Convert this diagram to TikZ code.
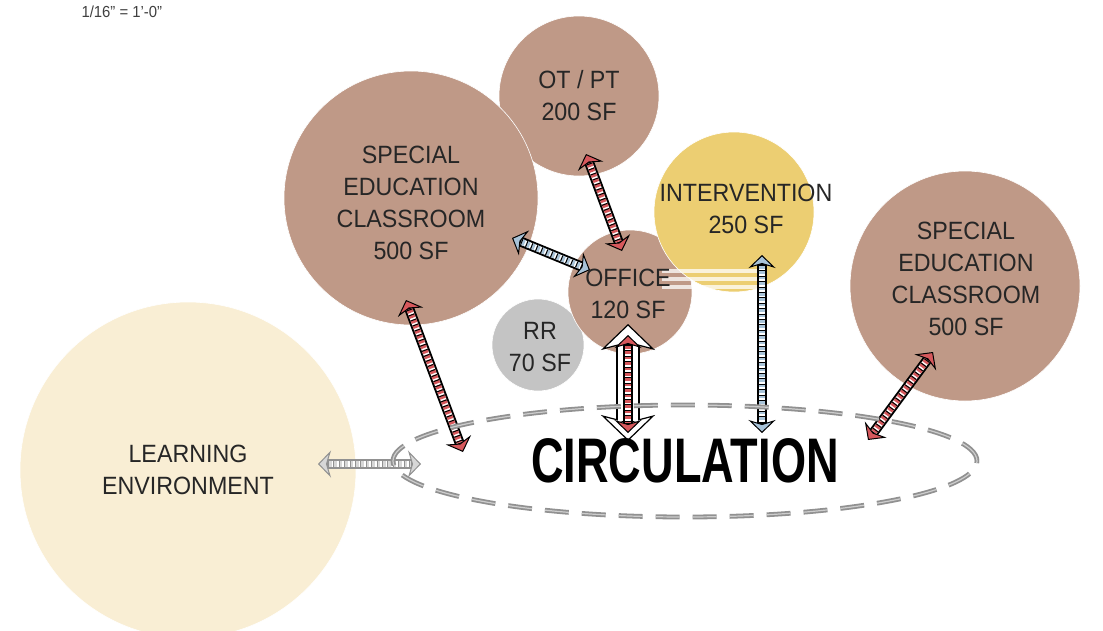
\documentclass[tikz,border=0pt]{standalone}
\usepackage{fontspec}
\setmainfont[FakeStretch=0.93]{Liberation Sans}
\usetikzlibrary{arrows.meta,shapes.geometric}
\definecolor{RoomClr}{RGB}{191,153,135}
\definecolor{InterClr}{RGB}{236,206,114}
\definecolor{LearnClr}{RGB}{249,238,212}
\definecolor{RestClr}{RGB}{196,196,196}
\definecolor{LinkRedClr}{RGB}{214,88,92}
\definecolor{LinkBlueClr}{RGB}{168,195,216}
\definecolor{LinkGrayClr}{RGB}{215,215,215}
\definecolor{CircClr}{RGB}{145,145,145}

\tikzset{
  room/.style={circle,fill=#1,draw=white,line width=.6pt,inner sep=0pt},
  roomtext/.style={align=center,text=black!85,font=\fontsize{25}{32}\selectfont},
  linkrail/.style 2 args={line width=10pt,draw=#1,
    {Stealth[length=13pt,width=27pt,inset=4pt,line width=1pt,fill=#2]}-{Stealth[length=13pt,width=27pt,inset=4pt,line width=1pt,fill=#2]}},
  linkbed/.style={line width=6pt,draw=white,shorten <=10pt,shorten >=10pt},
  linkrung/.style={line width=6pt,draw=#1,dash pattern=on 3.6pt off 1.8pt,shorten <=10pt,shorten >=10pt},
  linkedge/.style={line width=6pt,draw=#1,dash pattern=on 1pt off 4.4pt,shorten <=10pt,shorten >=10pt},
  tripleline/.style={line width=3.5pt,draw=white,opacity=.75},
}

\newcommand\linkarrow[4][black]{%
  \draw[linkrail={#1}{#2}] (#3) -- (#4);
  \draw[linkbed] (#3) -- (#4);
  \draw[linkrung=#2] (#3) -- (#4);
  \draw[linkedge=#1] (#3) -- (#4);
}

\begin{document}
\begin{tikzpicture}[x=1pt,y=-1pt]
\useasboundingbox (0,0) rectangle (1103,630);

\node[anchor=base west,text=black!75,font=\fontsize{16}{16}\selectfont] (scale-t) at (78,17) {1/16\symbol{34} = 1\symbol{39}-0\symbol{34}};

% rooms
\node[room=LearnClr,minimum size=336pt] (learn) at (188,470) {};
\node[room=RoomClr,minimum size=160pt] (otpt) at (579,96) {};
\node[room=RoomClr,minimum size=254pt] (sedl) at (411,198) {};
\node[room=RestClr,minimum size=92pt] (rr) at (538,345) {};
\node[room=RoomClr,minimum size=124pt] (office) at (630,292) {};
\node[room=InterClr,minimum size=160pt] (inter) at (734,212) {};
\node[room=RoomClr,minimum size=230pt] (sedr) at (965,286) {};

% office / intervention
\coordinate (tri-a) at (662,279);
\coordinate (tri-b) at (758,279);
\foreach \d in {-8,0,8}
  \draw[tripleline] ([yshift=\d pt]tri-a) -- ([yshift=\d pt]tri-b);

% links
\coordinate (otpt-l) at (586,154);
\coordinate (office-t) at (622,251);
\coordinate (sedl-r) at (512,238);
\coordinate (office-l) at (590,270);
\coordinate (office-b) at (628,335);
\coordinate (circ-o) at (628,433);
\coordinate (inter-b) at (762,255);
\coordinate (circ-i) at (762,433);
\coordinate (sedl-b) at (406,300);
\coordinate (circ-l) at (463,452);
\coordinate (sedr-b) at (933,352);
\coordinate (circ-r) at (868,440);
\coordinate (learn-r) at (318,464);
\coordinate (circ-w) at (421,464);

\draw[line width=24pt,
  {Stealth[length=26pt,width=54pt,inset=7pt,line width=1.2pt,fill=white]}-{Stealth[length=26pt,width=54pt,inset=7pt,line width=1.2pt,fill=white]}]
  ([yshift=11pt]office-b) -- ([yshift=-8pt]circ-o);
\draw[line width=20.5pt,white,shorten <=20pt,shorten >=20pt] ([yshift=11pt]office-b) -- ([yshift=-8pt]circ-o);

\linkarrow{LinkRedClr}{otpt-l}{office-t}
\linkarrow{LinkBlueClr}{sedl-r}{office-l}
\linkarrow{LinkRedClr}{office-b}{circ-o}
\linkarrow{LinkBlueClr}{inter-b}{circ-i}
\linkarrow{LinkRedClr}{sedl-b}{circ-l}
\linkarrow{LinkRedClr}{sedr-b}{circ-r}
\linkarrow[CircClr]{LinkGrayClr}{learn-r}{circ-w}

% circulation
\node[ellipse,minimum width=584pt,minimum height=112pt,draw=CircClr,line width=1.8pt,
  double=CircClr!45,double distance=1.2pt,dash pattern=on 24pt off 13pt,
  font=\bfseries\fontsize{63}{63}\selectfont] (circ) at (685,461) {\scalebox{0.77}[1]{CIRCULATION}};

% labels
\node[roomtext] (otpt-t) at (579,96) {OT / PT\\200 SF};
\node[roomtext] (sedl-t) at (411,203) {SPECIAL\\EDUCATION\\CLASSROOM\\500 SF};
\node[roomtext] (inter-t) at (746,209) {INTERVENTION\\250 SF};
\node[roomtext] (sedr-t) at (966,279) {SPECIAL\\EDUCATION\\CLASSROOM\\500 SF};
\node[roomtext] (office-t) at (628,294) {OFFICE\\120 SF};
\node[roomtext] (rr-t) at (540,347) {RR\\70 SF};
\node[roomtext] (learn-t) at (188,470) {LEARNING\\ENVIRONMENT};

\end{tikzpicture}
\end{document}
